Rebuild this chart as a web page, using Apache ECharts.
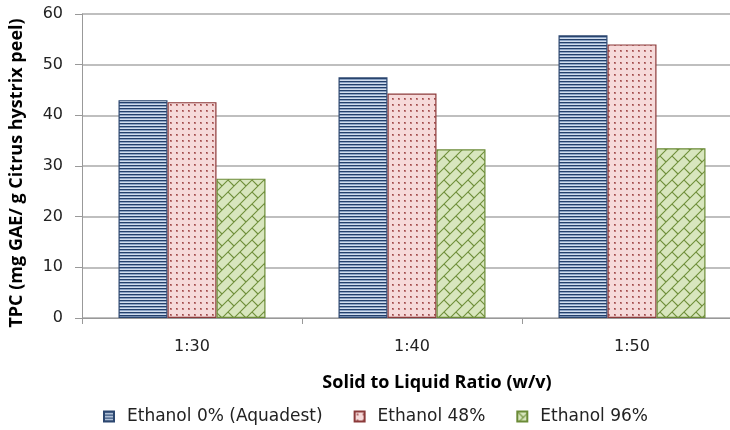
<!DOCTYPE html>
<html><head><meta charset="utf-8">
<script src="https://cdn.jsdelivr.net/npm/echarts@6/dist/echarts.min.js"></script>
<style>html,body{margin:0;padding:0;background:#fff}#c{width:730px;height:430px}</style>
</head><body><div id="c"></div>
<script>
const categories = ['1:30', '1:40', '1:50'];
const seriesNames = ['Ethanol 0% (Aquadest)', 'Ethanol 48%', 'Ethanol 96%'];
const ethanol0 = [43.0, 47.5, 55.8];
const ethanol48 = [42.6, 44.3, 54.0];
const ethanol96 = [27.5, 33.3, 33.5];
const yTicks = [0, 10, 20, 30, 40, 50, 60];

function mk(w, h, draw) {
  const c = document.createElement('canvas'); c.width = w; c.height = h;
  draw(c.getContext('2d')); return c;
}
const stripes = mk(4, 3, g => {
  g.fillStyle = '#d3deed'; g.fillRect(0, 0, 4, 3);
  g.fillStyle = '#24406b'; g.fillRect(0, 0, 4, 1);
  g.fillStyle = '#8aa2c4'; g.fillRect(0, 1, 4, 1);
});
const dots = mk(6, 6, g => {
  g.fillStyle = '#f6dada'; g.fillRect(0, 0, 6, 6);
  g.fillStyle = '#c07a7a'; g.fillRect(2, 2, 2, 2);
  g.fillStyle = '#9c4a4a'; g.fillRect(2, 2, 1, 1);
});
const bricks = mk(12, 12, g => {
  g.fillStyle = '#d8e6be'; g.fillRect(0, 0, 12, 12);
  g.strokeStyle = '#6f8f3a'; g.lineWidth = 1.1;
  g.beginPath();
  g.moveTo(-1, 13); g.lineTo(13, -1);
  g.moveTo(-1, 1); g.lineTo(1, -1);
  g.moveTo(11, 13); g.lineTo(13, 11);
  g.moveTo(0, 0); g.lineTo(6, 6);
  g.stroke();
});

const font = '"DejaVu Sans", sans-serif';
const boldFont = '"Open Sans", sans-serif';
const chart = echarts.init(document.getElementById('c'), null, {renderer: 'canvas'});
const data = [ethanol0, ethanol48, ethanol96];
const fills = [stripes, dots, bricks];
const borders = ['#2c4770', '#8b3a3a', '#6b8b37'];
chart.setOption({
  animation: false,
  grid: {left: 82, top: 14, bottom: 112, width: 660, containLabel: false, outerBoundsMode: 'none'},
  legend: {
    bottom: 0, left: 98, itemWidth: 10, itemHeight: 10, itemGap: 31,
    icon: 'rect',
    textStyle: {fontFamily: font, fontSize: 17, color: '#222', padding: [0, 0, 0, 8]},
    data: seriesNames
  },
  xAxis: {
    type: 'category', data: categories,
    name: 'Solid to Liquid Ratio (w/v)', nameLocation: 'middle', nameGap: 56,
    nameTextStyle: {fontFamily: boldFont, fontSize: 18, fontWeight: 'bold', color: '#000', padding: [0, 0, 0, 50]},
    axisLine: {lineStyle: {color: '#999', width: 1}},
    axisTick: {show: true, length: 6, lineStyle: {color: '#999'}},
    axisLabel: {fontFamily: font, fontSize: 16, color: '#222', margin: 21}
  },
  yAxis: {
    type: 'value', min: yTicks[0], max: yTicks[yTicks.length - 1], interval: 10,
    name: 'TPC (mg GAE/ g Citrus hystrix peel)', nameLocation: 'middle', nameGap: 56, nameRotate: 90,
    nameTextStyle: {fontFamily: boldFont, fontSize: 18, fontWeight: 'bold', color: '#000', padding: [0, 14, 0, 0]},
    axisLine: {show: true, lineStyle: {color: '#999'}},
    axisTick: {show: true, length: 7, lineStyle: {color: '#999'}},
    axisLabel: {fontFamily: font, fontSize: 16, color: '#222', margin: 19},
    splitLine: {lineStyle: {color: '#aaaaaa', width: 1.5}}
  },
  series: seriesNames.map((n, i) => ({
    name: n, type: 'bar', data: data[i],
    barWidth: 49, barGap: '0%',
    itemStyle: {color: {image: fills[i], repeat: 'repeat'}, borderColor: borders[i], borderWidth: 1.2}
  }))
});
</script></body></html>
